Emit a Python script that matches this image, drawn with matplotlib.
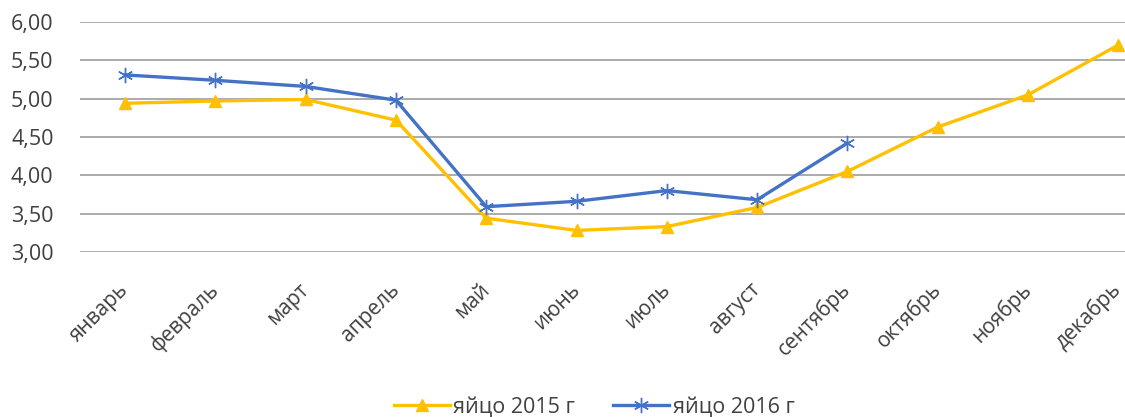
"""Egg prices by month, 2015 vs 2016."""

import matplotlib.pyplot as plt
from matplotlib.ticker import FuncFormatter, MultipleLocator

months = ["январь", "февраль", "март", "апрель", "май", "июнь",
          "июль", "август", "сентябрь", "октябрь", "ноябрь", "декабрь"]
eggs_2015 = [4.94, 4.97, 4.99, 4.72, 3.44, 3.28, 3.33, 3.58, 4.05, 4.63, 5.05, 5.70]
eggs_2016 = [5.31, 5.24, 5.16, 4.98, 3.59, 3.66, 3.80, 3.68, 4.42]
series_labels = ["яйцо 2015 г", "яйцо 2016 г"]


def main() -> None:
    plt.rcParams["font.family"] = ["Open Sans", "DejaVu Sans"]

    fig = plt.figure(figsize=(11.25, 4.17), dpi=100)
    # Axes run past the right edge: the original image is cropped there.
    ax = fig.add_axes([0.0711, 0.396, 0.963, 0.551])

    ax.plot(range(len(eggs_2015)), eggs_2015, color="#FFC000", lw=2.4,
            marker="^", ms=9, label=series_labels[0], zorder=3)
    ax.plot(range(len(eggs_2016)), eggs_2016, color="#4472C4", lw=2.4,
            marker=(6, 2, 0), ms=11, mew=1.0, label=series_labels[1], zorder=4)

    ax.set_xlim(-0.5, len(months) - 0.5)
    ax.set_ylim(3.0, 6.0)
    ax.yaxis.set_major_locator(MultipleLocator(0.5))
    ax.yaxis.set_major_formatter(FuncFormatter(lambda v, _: f"{v:.2f}".replace(".", ",")))
    ax.set_xticks(range(len(months)))
    ax.set_xticklabels(months, rotation=45, ha="right", va="center",
                       rotation_mode="anchor")

    ax.grid(axis="y", color="#ABABAB", lw=1.4)
    ax.set_axisbelow(True)
    for side in ("top", "right", "left", "bottom"):
        ax.spines[side].set_visible(False)
    ax.tick_params(axis="both", length=0, colors="#404040")
    ax.tick_params(axis="y", pad=19, labelsize=15.5)
    ax.tick_params(axis="x", pad=25, labelsize=15)

    fig.legend(loc="center", bbox_to_anchor=(0.528, 0.025), ncol=2, frameon=False,
               fontsize=15.5, handlelength=2.6, handletextpad=0.15,
               columnspacing=1.8, labelcolor="#404040")

    fig.savefig("out.png", dpi=100)


if __name__ == "__main__":
    main()
